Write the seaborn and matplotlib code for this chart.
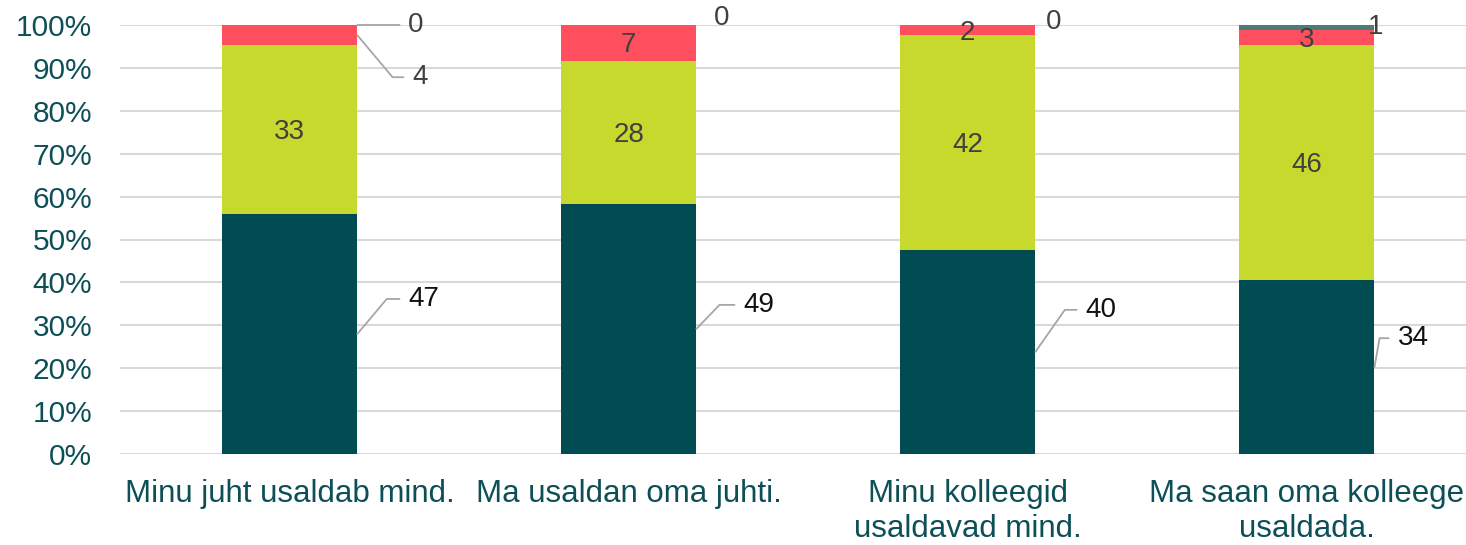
import numpy as np
import matplotlib.pyplot as plt
import seaborn as sns

categories = ["Minu juht usaldab mind.", "Ma usaldan oma juhti.",
              "Minu kolleegid\nusaldavad mind.", "Ma saan oma kolleege\nusaldada."]
taiesti_nous = [47, 49, 40, 34]
pigem_nous = [33, 28, 42, 46]
pigem_ei = [4, 7, 2, 3]
yldse_ei = [0, 0, 0, 1]
series = [taiesti_nous, pigem_nous, pigem_ei, yldse_ei]
colors = ["#004c52", "#c8d92e", "#ff4f5e", "#4a7c78"]

sns.set_style("white")
plt.rcParams['font.family'] = ['Liberation Sans', 'DejaVu Sans']

fig, ax = plt.subplots(figsize=(14.66, 5.45), dpi=100)
fig.subplots_adjust(left=120 / 1466, right=1.0, bottom=1 - 454 / 545, top=1 - 25 / 545)

counts = np.array(series, dtype=float)
shares = counts / counts.sum(axis=0) * 100
bottoms = np.vstack([np.zeros(len(categories)), np.cumsum(shares, axis=0)[:-1]])

for k in range(len(series)):
    sns.barplot(x=categories, y=shares[k], bottom=bottoms[k], color=colors[k],
                width=0.4, saturation=1, errorbar=None, linewidth=0, ax=ax)

# labels outside the bar: (series, bar) -> (dx, dy in pixels from bar edge, leader angle)
outside = {
    (0, 0): (51, 35, 50), (0, 1): (47, 24, 46), (0, 2): (50, 42, 55), (0, 3): (23, 29, 80),
    (2, 0): (55, -42, -50),
    (3, 0): (51, 0, 0), (3, 1): (18, 7, None), (3, 2): (10, 3, None), (3, 3): (-7, 1, None),
}
lead = dict(arrowstyle='-', color='#a6a6a6', lw=1.3, shrinkA=4, shrinkB=0)

for k in range(len(series)):
    for i in range(len(categories)):
        y = bottoms[k, i] + shares[k, i] / 2
        txt = f"{int(counts[k, i])}"
        col = '#111111' if k == 0 else '#404040'
        if (k, i) in outside:
            dx, dy, ang = outside[(k, i)]
            if ang is None:
                ap = None
            elif ang == 0:
                ap = dict(lead)
            else:
                ap = dict(lead, connectionstyle=f"angle,angleA=0,angleB={ang},rad=0")
            ax.annotate(txt, xy=(i + 0.2, y), xytext=(dx, dy), textcoords='offset pixels',
                        ha='left', va='center', fontsize=20, color=col, arrowprops=ap)
        else:
            ax.text(i, y - 0.6, txt, ha='center', va='center', fontsize=20, color=col)

ax.set_ylim(0, 100)
ax.set_xlim(-0.5, 3.47)
ax.set_yticks(np.arange(0, 101, 10))
ax.set_yticklabels([f"{v}%" for v in range(0, 101, 10)])
ax.yaxis.grid(True, color='#d9d9d9', lw=1.5)
ax.set_axisbelow(True)
for s in ax.spines.values():
    s.set_visible(False)
ax.tick_params(axis='y', length=0, pad=20, labelsize=21.5, labelcolor='#0d4f57')
ax.tick_params(axis='x', length=0, pad=18, labelsize=22.5, labelcolor='#0d4f57')
ax.set_xlabel('')
ax.set_ylabel('')

fig.savefig('out.png', dpi=100)
